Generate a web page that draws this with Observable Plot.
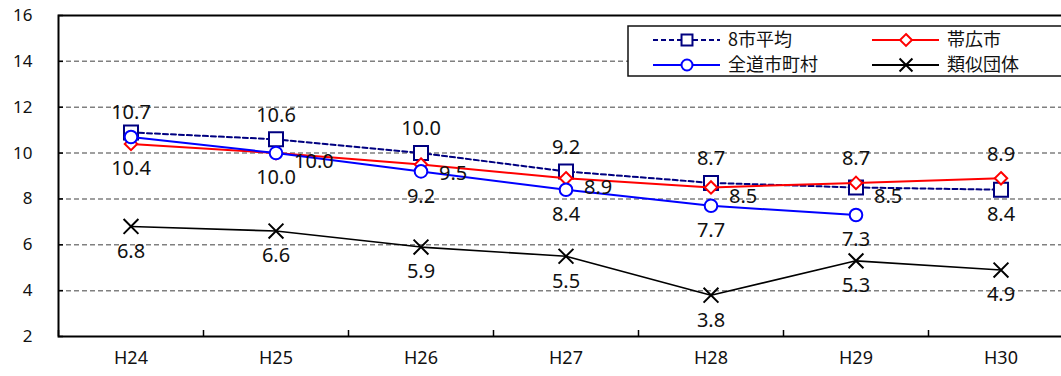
<!DOCTYPE html>
<html>
<head>
<meta charset="utf-8">
<script src="https://cdn.jsdelivr.net/npm/d3@7"></script>
<script src="https://cdn.jsdelivr.net/npm/@observablehq/plot@0.6"></script>
<style>
  html, body { margin: 0; padding: 0; background: #fff; overflow: hidden; }
  #wrap { position: relative; width: 1061px; height: 376px; overflow: hidden; font-family: "Noto Sans", "Noto Sans CJK JP", sans-serif; }
  #wrap > svg.plot-chart { max-width: none; }
</style>
</head>
<body>
<div id="wrap"></div>
<script>
// ---- data ----
const categories = ["H24", "H25", "H26", "H27", "H28", "H29", "H30"];
const seriesNames = ["8市平均", "帯広市", "全道市町村", "類似団体"];
const avg8Values    = [10.9, 10.6, 10.0, 9.2, 8.7, 8.5, 8.4];
const obihiroValues = [10.4, 10.0, 9.5, 8.9, 8.5, 8.7, 8.9];
const zendoValues   = [10.7, 10.0, 9.2, 8.4, 7.7, 7.3, null];
const ruijiValues   = [6.8, 6.6, 5.9, 5.5, 3.8, 5.3, 4.9];
const yTicks = [2, 4, 6, 8, 10, 12, 14, 16];

// label placement keywords (null = label not shown)
const placement = {
  "8市平均":   [null, "above", "above", "above", "above", "right", "below"],
  "帯広市":    ["below", "right", "right", "right", "right", "above", "above"],
  "全道市町村": ["above", "below", "below", "below", "below", "below", null],
  "類似団体":   ["below", "below", "below", "below", "below", "below", "below"]
};

const styles = {
  "8市平均":   {color: "#000080", symbol: "square", r: 7.9, dash: "5,3", width: 2},
  "帯広市":    {color: "#ff0000", symbol: "diamond2", r: 5.6, dash: null, width: 2},
  "全道市町村": {color: "#0000ff", symbol: "circle", r: 6.3, dash: null, width: 2},
  "類似団体":   {color: "#000000", symbol: "times", r: 6.8, dash: null, width: 1.6}
};

const valueLists = [avg8Values, obihiroValues, zendoValues, ruijiValues];
const rows = seriesNames.flatMap((s, si) =>
  categories.map((c, i) => ({series: s, cat: c, value: valueLists[si][i], pos: placement[s][i]}))
).filter(d => d.value != null);

// SVG is wider than the window so the right edge of the plot frame falls outside the view
const W = 1080, H = 376;
const ML = 58, MR = 7, MT = 15, MB = 40;
const band = (W - MR - ML) / categories.length;

const marks = [
  Plot.ruleY(yTicks.filter(v => v > 2 && v < 16), {y: d => d, stroke: "#808080", strokeWidth: 1.5, strokeDasharray: "5,3"}),
  Plot.frame({stroke: "#000", strokeWidth: 2}),
  Plot.tickY(yTicks, {y: d => d, stroke: "#000", strokeWidth: 1.5, insetRight: W - ML - MR - 5}),
  Plot.tickX(categories, {x: d => d, dx: -band / 2, stroke: "#000", strokeWidth: 1.5, insetTop: (H - MB - MT) - 6}),
  Plot.axisY({ticks: yTicks, tickSize: 0, tickPadding: 26, fontSize: 17, tickFormat: d => String(d), fill: "#111", label: null}),
  Plot.axisX({tickSize: 0, tickPadding: 15, fontSize: 18, fill: "#111", label: null})
];

for (const s of seriesNames) {
  const st = styles[s];
  const data = rows.filter(d => d.series === s);
  marks.push(Plot.line(data, {x: "cat", y: "value", stroke: st.color, strokeWidth: st.width, strokeDasharray: st.dash || undefined}));
  marks.push(Plot.dot(data, {x: "cat", y: "value", symbol: () => st.symbol, r: st.r, stroke: st.color, strokeWidth: 2, fill: st.symbol === "times" ? "none" : "#fff"}));
}

const fmt = d => d.value.toFixed(1);
const lab = {fontSize: 20, fill: "#111", text: fmt, x: "cat", y: "value"};
marks.push(Plot.text(rows.filter(d => d.pos === "above"), {...lab, dy: -24}));
marks.push(Plot.text(rows.filter(d => d.pos === "below"), {...lab, dy: 25}));
marks.push(Plot.text(rows.filter(d => d.pos === "right"), {...lab, dx: 18, dy: 9, textAnchor: "start"}));

const chart = Plot.plot({
  width: W, height: H,
  marginTop: MT, marginBottom: MB, marginLeft: ML, marginRight: MR,
  className: "plot-chart",
  style: {fontFamily: "'Noto Sans', 'Noto Sans CJK JP', sans-serif", background: "#fff", fontSize: "17px", maxWidth: "none"},
  x: {type: "band", domain: categories, padding: 0, axis: null, label: null},
  y: {domain: [2, 16], axis: null, label: null},
  symbol: {type: "identity"},
  marks
});
chart.style.maxWidth = "none";
document.getElementById("wrap").appendChild(chart);

// ---- legend (its right edge runs past the window, as in the reference) ----
const lw = 450, lh = 52;
const legend = d3.create("svg").attr("id", "legend").attr("width", lw).attr("height", lh)
  .style("position", "absolute").style("left", "627px").style("top", "25px");
legend.append("rect").attr("x", 1).attr("y", 1).attr("width", lw - 2).attr("height", lh - 2)
  .attr("fill", "#fff").attr("stroke", "#111").attr("stroke-width", 1.5);
const legendPos = [[0, 0], [1, 0], [0, 1], [1, 1]];
const symbolPath = {
  square: d3.symbol(d3.symbolSquare, 120)(),
  diamond2: d3.symbol(d3.symbolDiamond2, 90)(),
  circle: null,
  times: d3.symbol(d3.symbolTimes, 110)()
};
seriesNames.forEach((s, i) => {
  const st = styles[s];
  const [col, row] = legendPos[i];
  const x0 = col ? 245 : 26, y = row ? 40 : 15;
  const g = legend.append("g");
  g.append("line").attr("x1", x0).attr("x2", x0 + 67).attr("y1", y).attr("y2", y)
    .attr("stroke", st.color).attr("stroke-width", 2).attr("stroke-dasharray", st.dash);
  const cx = x0 + 34;
  if (st.symbol === "circle") {
    g.append("circle").attr("cx", cx).attr("cy", y).attr("r", 5.5).attr("fill", "#fff").attr("stroke", st.color).attr("stroke-width", 2);
  } else {
    g.append("path").attr("d", symbolPath[st.symbol]).attr("transform", `translate(${cx},${y})`)
      .attr("fill", st.symbol === "times" ? "none" : "#fff").attr("stroke", st.color).attr("stroke-width", 2);
  }
  g.append("text").attr("x", x0 + 75).attr("y", y).attr("dy", "0.35em")
    .attr("font-size", 18).attr("fill", "#111")
    .attr("font-family", "'Noto Sans CJK JP', 'Noto Sans', sans-serif").text(s);
});
document.getElementById("wrap").appendChild(legend.node());
</script>
</body>
</html>
